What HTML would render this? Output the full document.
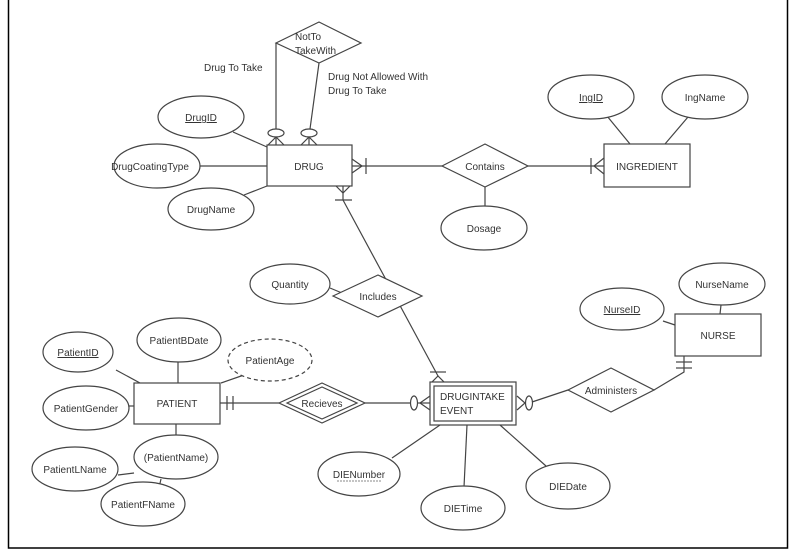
<!DOCTYPE html>
<html><head><meta charset="utf-8"><style>
html,body{margin:0;padding:0;background:#fff;}
svg{display:block;}
text{font-family:"Liberation Sans",sans-serif;font-size:10px;fill:#333;}
</style></head><body>
<svg width="797" height="556" viewBox="0 0 797 556" xmlns="http://www.w3.org/2000/svg">
<rect x="8.5" y="-2" width="779" height="550" fill="#fff" stroke="#000" stroke-width="1.5"/>
<g stroke="#444" stroke-width="1.2" fill="none">
<!-- NotToTakeWith lines -->
<polyline points="276,43 276,129"/>
<line x1="319" y1="63" x2="310" y2="129"/>
<ellipse cx="276" cy="133" rx="8" ry="4"/>
<ellipse cx="309" cy="133" rx="8" ry="4"/>
<polyline points="268,145 276,137 284,145"/><line x1="276" y1="137" x2="276" y2="145"/>
<polyline points="301,145 309,137 317,145"/><line x1="309" y1="137" x2="309" y2="145"/>
<!-- DRUG attrs -->
<line x1="233" y1="132" x2="267" y2="147"/>
<line x1="200" y1="166" x2="267" y2="166"/>
<line x1="244" y1="195" x2="267" y2="186"/>
<!-- DRUG-Contains -->
<line x1="352" y1="166" x2="442" y2="166"/>
<polyline points="352,159 362,166 352,173"/>
<line x1="366" y1="158" x2="366" y2="174"/>
<!-- DRUG-Includes-DIE -->
<polyline points="336,186 343,193 350,186"/>
<line x1="343" y1="186" x2="343" y2="200"/>
<line x1="335" y1="200" x2="352" y2="200"/>
<line x1="343" y1="200" x2="438" y2="376"/>
<line x1="430" y1="372" x2="446" y2="372"/>
<polyline points="431,383 438,376 445,383"/>
<line x1="330" y1="288" x2="342" y2="293"/>
<!-- Contains -->
<line x1="485" y1="187" x2="485" y2="206"/>
<line x1="528" y1="166" x2="604" y2="166"/>
<line x1="591" y1="158" x2="591" y2="174"/>
<polyline points="604,158 594,166 604,174"/>
<line x1="607" y1="116" x2="630" y2="144"/>
<line x1="688" y1="117" x2="665" y2="144"/>
<!-- NURSE -->
<line x1="663" y1="321" x2="675" y2="325"/>
<line x1="721" y1="305" x2="720" y2="314"/>
<polyline points="654,390 684,372 684,356"/>
<line x1="676" y1="362" x2="692" y2="362"/>
<line x1="676" y1="368" x2="692" y2="368"/>
<!-- DIE right -->
<polyline points="517,396 525,403 517,410"/>
<ellipse cx="529" cy="403" rx="3.5" ry="7"/>
<line x1="532" y1="402" x2="568" y2="390"/>
<!-- DIE left -->
<line x1="365" y1="403" x2="410" y2="403"/>
<ellipse cx="414" cy="403" rx="3.5" ry="7"/>
<polyline points="430,396 420,403 430,410"/>
<line x1="418" y1="403" x2="430" y2="403"/>
<!-- DIE attrs -->
<line x1="440" y1="425" x2="392" y2="458"/>
<line x1="467" y1="425" x2="464" y2="487"/>
<line x1="500" y1="425" x2="546" y2="466"/>
<!-- PATIENT -->
<line x1="220" y1="403" x2="279" y2="403"/>
<line x1="227" y1="396" x2="227" y2="410"/>
<line x1="233" y1="396" x2="233" y2="410"/>
<line x1="116" y1="370" x2="140" y2="383"/>
<line x1="178" y1="362" x2="178" y2="383"/>
<line x1="221" y1="383" x2="244" y2="375"/>
<line x1="129" y1="406" x2="134" y2="406"/>
<line x1="176" y1="424" x2="176" y2="436"/>
<line x1="118" y1="475" x2="134" y2="473"/>
<line x1="158" y1="492" x2="161" y2="479"/>
</g>
<g stroke="#444" stroke-width="1.2" fill="#fff">
<polygon points="276,43 319,22 361,43 319,63"/>
<rect x="267" y="145" width="85" height="41"/>
<ellipse cx="201" cy="117" rx="43" ry="21"/>
<ellipse cx="157" cy="166" rx="43" ry="22"/>
<ellipse cx="211" cy="209" rx="43" ry="21"/>
<polygon points="442,166 485,144 528,166 485,187"/>
<ellipse cx="484" cy="228" rx="43" ry="22"/>
<rect x="604" y="144" width="86" height="43"/>
<ellipse cx="591" cy="97" rx="43" ry="22"/>
<ellipse cx="705" cy="97" rx="43" ry="22"/>
<ellipse cx="290" cy="284" rx="40" ry="20"/>
<polygon points="333,296 378,275 422,296 378,317"/>
<rect x="675" y="314" width="86" height="42"/>
<ellipse cx="622" cy="309" rx="42" ry="21"/>
<ellipse cx="722" cy="284" rx="43" ry="21"/>
<polygon points="568,390 611,368 654,390 611,412"/>
<rect x="430" y="382" width="86" height="43"/>
<rect x="434" y="386" width="78" height="35"/>
<rect x="134" y="383" width="86" height="41"/>
<polygon points="279,403 322,383 365,403 322,423"/>
<polygon points="287,403 322,387 357,403 322,419"/>
<ellipse cx="78" cy="352" rx="35" ry="20"/>
<ellipse cx="179" cy="340" rx="42" ry="22"/>
<ellipse cx="270" cy="360" rx="42" ry="21" stroke-dasharray="4,3"/>
<ellipse cx="86" cy="408" rx="43" ry="22"/>
<ellipse cx="176" cy="457" rx="42" ry="22"/>
<ellipse cx="75" cy="469" rx="43" ry="22"/>
<ellipse cx="143" cy="504" rx="42" ry="22"/>
<ellipse cx="359" cy="474" rx="41" ry="22"/>
<ellipse cx="463" cy="508" rx="42" ry="22"/>
<ellipse cx="568" cy="486" rx="42" ry="23"/>
</g>
<g>
<text x="295" y="40">NotTo</text>
<text x="295" y="54">TakeWith</text>
<text x="204" y="71">Drug To Take</text>
<text x="328" y="80">Drug Not Allowed With</text>
<text x="328" y="94">Drug To Take</text>
<text x="309" y="170" text-anchor="middle">DRUG</text>
<text x="201" y="121" text-anchor="middle" text-decoration="underline">DrugID</text>
<text x="150" y="170" text-anchor="middle">DrugCoatingType</text>
<text x="211" y="213" text-anchor="middle">DrugName</text>
<text x="485" y="170" text-anchor="middle">Contains</text>
<text x="484" y="232" text-anchor="middle">Dosage</text>
<text x="647" y="170" text-anchor="middle">INGREDIENT</text>
<text x="591" y="101" text-anchor="middle" text-decoration="underline">IngID</text>
<text x="705" y="101" text-anchor="middle">IngName</text>
<text x="290" y="288" text-anchor="middle">Quantity</text>
<text x="378" y="300" text-anchor="middle">Includes</text>
<text x="718" y="339" text-anchor="middle">NURSE</text>
<text x="622" y="313" text-anchor="middle" text-decoration="underline">NurseID</text>
<text x="722" y="288" text-anchor="middle">NurseName</text>
<text x="611" y="394" text-anchor="middle">Administers</text>
<text x="440" y="400">DRUGINTAKE</text>
<text x="440" y="414">EVENT</text>
<text x="177" y="407" text-anchor="middle">PATIENT</text>
<text x="322" y="407" text-anchor="middle">Recieves</text>
<text x="78" y="356" text-anchor="middle" text-decoration="underline">PatientID</text>
<text x="179" y="344" text-anchor="middle">PatientBDate</text>
<text x="270" y="364" text-anchor="middle">PatientAge</text>
<text x="86" y="412" text-anchor="middle">PatientGender</text>
<text x="176" y="461" text-anchor="middle">(PatientName)</text>
<text x="75" y="473" text-anchor="middle">PatientLName</text>
<text x="143" y="508" text-anchor="middle">PatientFName</text>
<text x="359" y="478" text-anchor="middle">DIENumber</text>
<line x1="337" y1="481" x2="381" y2="481" stroke="#888" stroke-dasharray="2,1"/>
<text x="463" y="512" text-anchor="middle">DIETime</text>
<text x="568" y="490" text-anchor="middle">DIEDate</text>
</g>
</svg>
</body></html>
